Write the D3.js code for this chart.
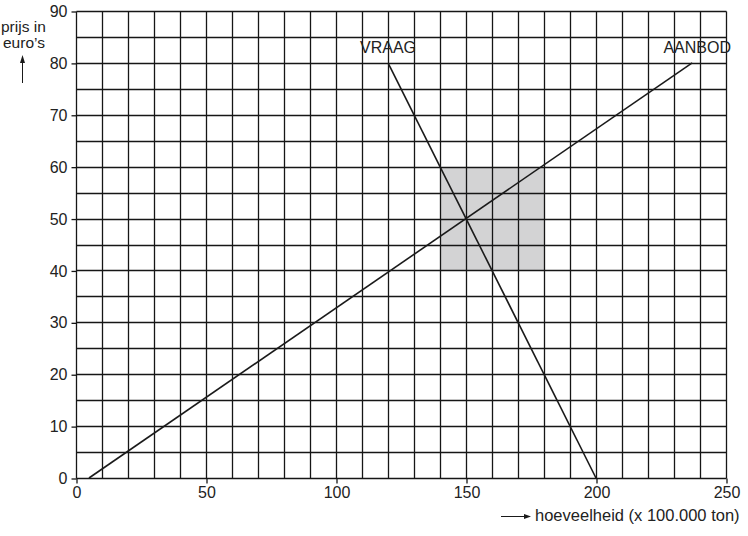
<!DOCTYPE html>
<html><head><meta charset="utf-8">
<script src="https://cdn.jsdelivr.net/npm/d3@7"></script>
<style>body{margin:0;background:#fff}svg{display:block}text{font-family:"Liberation Sans",Arial,sans-serif;fill:#222}</style>
</head><body><svg id="c" width="748" height="536"></svg>
<script>
const xTicks = [0, 50, 100, 150, 200, 250];
const yTicks = [0, 10, 20, 30, 40, 50, 60, 70, 80, 90];
const supplyQ = [5, 237];
const supplyP = [0, 80];
const demandQ = [120, 200];
const demandP = [80, 0];
const shadeQ = [140, 180];
const shadeP = [40, 60];
const labels = ["VRAAG", "AANBOD"];

const svg = d3.select("#c");
const x = d3.scaleLinear().domain([0, 250]).range([76, 726]);
const y = d3.scaleLinear().domain([0, 90]).range([478, 11]);
const px = v => Math.round(x(v)) + 0.5;
const py = v => Math.round(y(v)) + 0.5;

// shaded area
svg.append("rect")
  .attr("x", px(shadeQ[0])).attr("y", py(shadeP[1]))
  .attr("width", px(shadeQ[1]) - px(shadeQ[0]))
  .attr("height", py(shadeP[0]) - py(shadeP[1]))
  .attr("fill", "#d3d3d4");

// grid
const g = svg.append("g").attr("stroke", "#161616").attr("stroke-width", 1.3);
d3.range(0, 251, 10).forEach(v => g.append("line").attr("x1", px(v)).attr("x2", px(v)).attr("y1", py(0)).attr("y2", py(90)));
d3.range(0, 91, 5).forEach(v => g.append("line").attr("x1", px(0)).attr("x2", px(250)).attr("y1", py(v)).attr("y2", py(v)));

// axes
const xa = svg.append("g").attr("transform", `translate(0.5,${py(0)})`)
  .call(d3.axisBottom(x).tickValues(xTicks).tickSize(5).tickPadding(3));
const ya = svg.append("g").attr("transform", `translate(${px(0)},0.5)`)
  .call(d3.axisLeft(y).tickValues(yTicks).tickSize(5).tickPadding(4));
[xa, ya].forEach(a => {
  a.select(".domain").remove();
  a.selectAll("line").attr("stroke", "#161616").attr("stroke-width", 1.3);
  a.selectAll("text").style("font-size", "16px").style("font-family", '"Liberation Sans",Arial,sans-serif').attr("fill", "#222");
});

// lines
const line = d3.line().x(d => x(d[0])).y(d => y(d[1]));
svg.append("path").datum(d3.zip(supplyQ, supplyP)).attr("d", line).attr("stroke", "#1a1a1a").attr("stroke-width", 1.6).attr("fill", "none");
svg.append("path").datum(d3.zip(demandQ, demandP)).attr("d", line).attr("stroke", "#1a1a1a").attr("stroke-width", 1.6).attr("fill", "none");

// labels
svg.append("text").attr("x", 360).attr("y", 53).style("font-size", "16px").text(labels[0]);
svg.append("text").attr("x", 731).attr("y", 53).attr("text-anchor", "end").style("font-size", "16px").text(labels[1]);

// y-axis title
svg.append("text").attr("x", 1).attr("y", 32).style("font-size", "15.5px").text("prijs in");
svg.append("text").attr("x", 3).attr("y", 48).style("font-size", "15.5px").text("euro’s");
svg.append("line").attr("x1", 22.5).attr("x2", 22.5).attr("y1", 83).attr("y2", 61).attr("stroke", "#1a1a1a").attr("stroke-width", 1);
svg.append("path").attr("d", "M22.5,55 L20,63 L25,63 Z").attr("fill", "#1a1a1a");

// x-axis title
svg.append("line").attr("x1", 501).attr("x2", 525).attr("y1", 516.5).attr("y2", 516.5).attr("stroke", "#1a1a1a").attr("stroke-width", 1);
svg.append("path").attr("d", "M531,516.5 L524,514 L524,519 Z").attr("fill", "#1a1a1a");
svg.append("text").attr("x", 535).attr("y", 521).style("font-size", "16.5px").text("hoeveelheid (x 100.000 ton)");
</script></body></html>
